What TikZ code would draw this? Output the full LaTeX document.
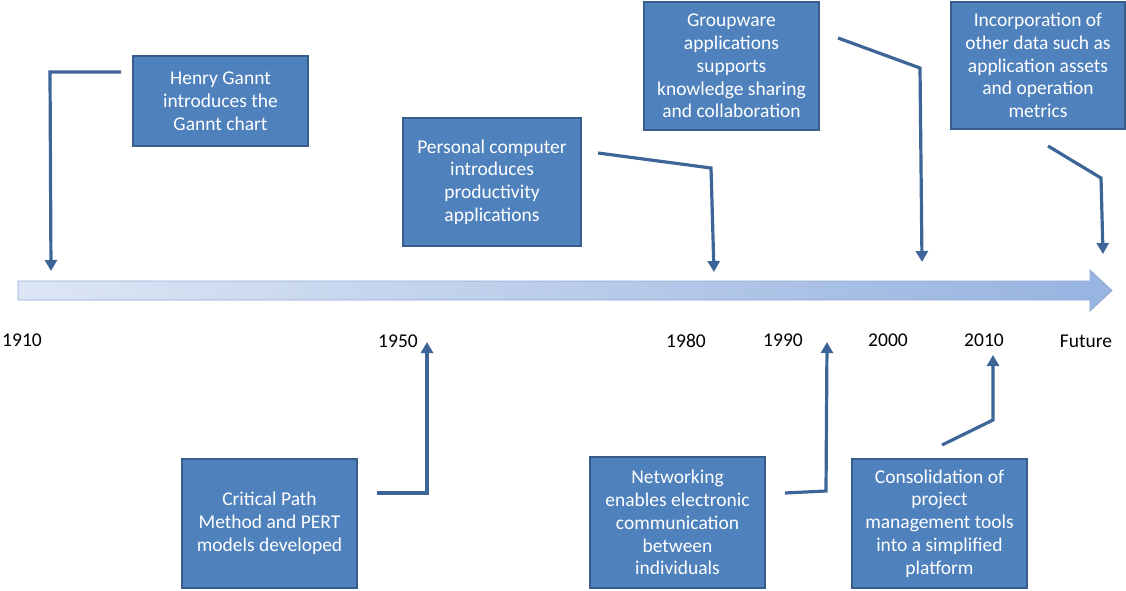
\documentclass[tikz,border=0pt]{standalone}
\usepackage{fontspec}
\setmainfont{Carlito}
\usetikzlibrary{arrows.meta}
\definecolor{boxfill}{HTML}{4F81BD}
\definecolor{boxline}{HTML}{385D8A}
\definecolor{conn}{HTML}{3D6598}
\definecolor{tlleft}{HTML}{DDE6F4}
\definecolor{tlright}{HTML}{97B3E0}
\definecolor{tlline}{HTML}{8FAAD6}
\tikzset{
  evbox/.style={draw=boxline, line width=2.2pt, fill=boxfill, text=white, align=center,
    inner sep=0pt, font=\fontsize{19.5}{22.8}\selectfont},
  yearlbl/.style={text=black, inner sep=0pt, font=\fontsize{19.5}{22.8}\selectfont},
  connector/.style={draw=conn, line width=3.2pt, -{Triangle[width=12pt,length=11pt]}}
}
\begin{document}
\begin{tikzpicture}[x=1pt,y=-1pt]
\useasboundingbox (0,0) rectangle (1126,591);
% timeline arrow
\shadedraw[left color=tlleft, right color=tlright, draw=tlline, line width=0.8pt]
  (18,281) -- (1090,281) -- (1090,270) -- (1112,290.5) -- (1090,311) -- (1090,300) -- (18,300) -- cycle;
% boxes
\node[evbox, minimum width=175pt, minimum height=90pt] (gantt) at (220.5,101) {Henry Gannt\\introduces the\\Gannt chart};
\node[evbox, minimum width=178pt, minimum height=128pt] (pc) at (492,182) {Personal computer\\introduces\\productivity\\applications};
\node[evbox, minimum width=175pt, minimum height=128pt] (group) at (731.5,66) {Groupware\\applications\\supports\\knowledge sharing\\and collaboration};
\node[evbox, minimum width=174pt, minimum height=127pt] (incorp) at (1038,65.5) {Incorporation of\\other data such as\\application assets\\and operation\\metrics};
\node[evbox, minimum width=175pt, minimum height=129pt] (cpm) at (269.5,523.5) {Critical Path\\Method and PERT\\models developed};
\node[evbox, minimum width=175pt, minimum height=131pt] (net) at (677.5,522.5) {Networking\\enables electronic\\communication\\between\\individuals};
\node[evbox, minimum width=175pt, minimum height=129pt] (consol) at (939.5,523.5) {Consolidation of\\project\\management tools\\into a simplified\\platform};
% year labels
\node[yearlbl] (y1910) at (22,340) {1910};
\node[yearlbl] (y1950) at (398,341) {1950};
\node[yearlbl] (y1980) at (686,341) {1980};
\node[yearlbl] (y1990) at (783,340) {1990};
\node[yearlbl] (y2000) at (888,340) {2000};
\node[yearlbl] (y2010) at (984,340) {2010};
\node[yearlbl] (yfut) at (1086,341) {Future};
% connector endpoints
\coordinate (s1) at (121,72);  \coordinate (t1) at (51,271);
\coordinate (s2) at (598,153); \coordinate (t2) at (714,272);
\coordinate (s3) at (838,38);  \coordinate (t3) at (922,262);
\coordinate (s4) at (1048,146);\coordinate (t4) at (1103,254);
\coordinate (s5) at (377,493); \coordinate (t5) at (427,342);
\coordinate (s6) at (785,493); \coordinate (t6) at (827,342);
\coordinate (s7) at (942,445); \coordinate (t7) at (993,355);
% connectors
\draw[connector] (s1) -- (50,72) -- (t1);
\draw[connector] (s2) -- (711,168) -- (t2);
\draw[connector] (s3) -- (920,68) -- (t3);
\draw[connector] (s4) -- (1101,178) -- (t4);
\draw[connector] (s5) -- (427,493) -- (t5);
\draw[connector] (s6) -- (826,491) -- (t6);
\draw[connector] (s7) -- (993,420) -- (t7);
\end{tikzpicture}
\end{document}
